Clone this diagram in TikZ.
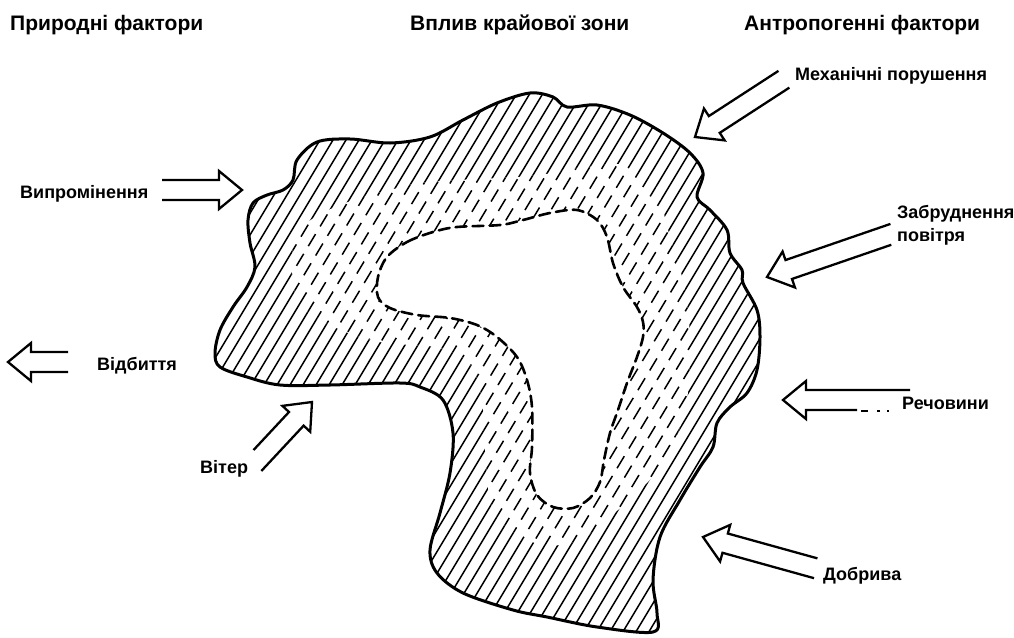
\documentclass[tikz,border=0pt]{standalone}
\usepackage{fontspec}
\setmainfont{Liberation Sans}
\newcommand\harrow[6]{% tip x, tip y, angle, length (+b side), length (-b side), name
  \draw[arrowline, shift={(#1,#2)}, rotate=#3] (-#4,10) -- (-23,10) -- (-23,19) -- (0,0) coordinate (#6) -- (-23,-19) -- (-23,-10) -- (-#5,-10);}
\def\outerP{plot[smooth cycle, tension=0.55] coordinates {
 (293,180) (297,160) (317,142) (350,139) (390,143) (430,137) (463,120) (497,103)
 (530,93) (553,97) (567,107) (597,105) (630,115) (663,133) (690,153) (703,173)
 (697,197) (710,210) (727,230) (730,253) (742,270) (743,283) (757,310) (760,337)
 (757,370) (747,393) (730,407) (717,423) (713,447) (700,467) (680,500) (660,537)
 (653,580) (657,613) (653,632) (597,627) (547,617) (513,610) (463,593) (437,573)
 (430,550) (440,513) (450,473) (453,433) (443,400) (420,387) (400,383) (330,385)
 (280,385) (247,377) (220,367) (215,353) (220,330) (233,307) (247,287) (255,267)
 (250,243) (248,220) (253,203) (267,195) (283,190)}}
\def\midP{plot[smooth cycle, tension=0.6] coordinates {
 (292,255) (305,225) (340,205) (390,190) (430,182) (530,176) (580,168) (630,165)
 (655,185) (668,230) (685,290) (690,350) (685,410) (665,460) (640,490) (612,515)
 (580,540) (545,545) (515,533) (492,507) (485,450) (482,400) (470,365) (440,348)
 (380,342) (330,325) (298,300)}}
\def\holeP{plot[smooth cycle, tension=0.55] coordinates {
 (387,257) (407,242) (433,232) (457,227) (500,225) (523,220) (550,213) (577,210)
 (597,220) (607,237) (613,263) (623,287) (637,307) (643,322) (643,337) (637,357)
 (627,383) (618,410) (610,433) (604,460) (600,482) (590,498) (573,508) (553,507)
 (537,495) (530,473) (532,447) (532,407) (527,380) (517,357) (497,337) (477,325)
 (450,318) (417,315) (390,308) (378,297) (378,277)}}
\begin{document}
\begin{tikzpicture}[x=1pt,y=-1pt,
  outline/.style={line width=3pt, line join=round},
  hatch/.style={line width=1.5pt},
  dhatch/.style={line width=1.5pt, dash pattern=on 14pt off 9pt},
  holeline/.style={line width=2.6pt, dash pattern=on 11pt off 6pt, line cap=round},
  arrowline/.style={line width=2.3pt, line join=miter},
  lbl/.style={font=\fontsize{18}{21}\selectfont\bfseries, inner sep=0pt, anchor=base west},
  hdr/.style={font=\fontsize{21}{25}\selectfont\bfseries, inner sep=0pt, anchor=base west}]
\useasboundingbox (0,0) rectangle (1014,637);

% the zone
\begin{scope}
  \clip \outerP;
  \foreach \i in {0,...,82} \draw[hatch] ({-220+13*\i},650) -- ++(390,-650);
  \fill[white] \midP;
  \begin{scope}
    \clip \midP;
    \foreach \i in {0,...,82} {
      \pgfmathsetmacro\ph{mod(\i*11,23)}
      \draw[dhatch, dash phase=\ph pt] ({-220+13*\i},650) -- ++(390,-650);
    }
  \end{scope}
  \fill[white] \holeP;
\end{scope}
\draw[holeline] \holeP;
\draw[outline] \outerP;

% headers
\node[hdr] (h1) at (10,30) {Природні фактори};
\node[hdr] (h2) at (410,30) {Вплив крайової зони};
\node[hdr] (h3) at (744,30) {Антропогенні фактори};

% labels
\node[lbl] (l1) at (20,198) {Випромінення};
\node[lbl] (l2) at (97,370) {Відбиття};
\node[lbl] (l3) at (200,473) {Вітер};
\node[lbl] (l4) at (795,80) {Механічні порушення};
\node[lbl] (l5) at (897,218) {Забруднення};
\node[lbl] (l6) at (897,241) {повітря};
\node[lbl] (l7) at (902,409) {Речовини};
\node[lbl] (l8) at (823,580) {Добрива};

% arrows
\harrow{242}{190}{0}{80}{80}{a1}
\harrow{8}{362}{180}{60}{60}{a2}
\harrow{312}{402}{47}{85}{75}{a3}
\harrow{695}{137}{213}{106}{106}{a4}
\harrow{767}{277}{199}{134}{128}{a5}
\harrow{783}{400}{180}{127}{74}{a6}
\harrow{703}{537}{164.5}{116}{118}{a7}
\draw[line width=1.6pt] (861,411) -- (868,411) (877,411) -- (880,411) (887,411) -- (889,411);
\end{tikzpicture}
\end{document}
